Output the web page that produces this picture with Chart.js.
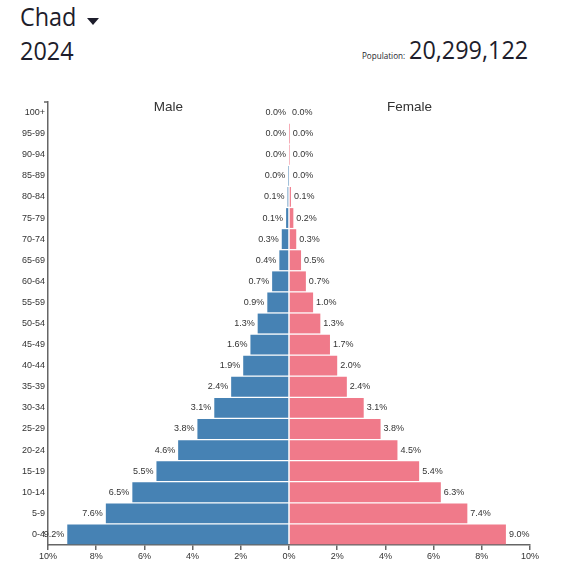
<!DOCTYPE html>
<html>
<head>
<meta charset="utf-8">
<script src="https://cdn.jsdelivr.net/npm/chart.js@4"></script>
<style>
  body { margin: 0; background: #fff; }
  #wrap { position: relative; width: 567px; height: 579px; overflow: hidden; }
  .hd { position: absolute; font-family: "Open Sans", "Noto Sans", sans-serif; font-weight: 400; color: #1d1d2b;
        line-height: 1; white-space: nowrap; transform: scaleX(0.9); transform-origin: left top; }
  #country { left: 20px; top: 3px; font-size: 26px; }
  #arrow { position: absolute; left: 87px; top: 18px; width: 0; height: 0;
           border-left: 6.5px solid transparent; border-right: 6.5px solid transparent; border-top: 7px solid #1d1d2b; }
  #year { left: 20px; top: 37px; font-size: 26px; }
  #popLabel { left: 362px; top: 51px; font-size: 9px; }
  #popValue { left: 409px; top: 36px; font-size: 26px; }
  canvas { position: absolute; left: 0; top: 0; }
</style>
</head>
<body>
<div id="wrap">
  <div class="hd" id="country">Chad</div>
  <div id="arrow"></div>
  <div class="hd" id="year">2024</div>
  <div class="hd" id="popLabel">Population:</div>
  <div class="hd" id="popValue">20,299,122</div>
  <canvas id="pyramid" width="567" height="579"></canvas>
</div>
<script>
// age groups from youngest to oldest
const ageGroups = ['0-4', '5-9', '10-14', '15-19', '20-24', '25-29', '30-34', '35-39', '40-44', '45-49',
                   '50-54', '55-59', '60-64', '65-69', '70-74', '75-79', '80-84', '85-89', '90-94', '95-99', '100+'];
// share of total population, percent
const malePct   = [9.2, 7.6, 6.5, 5.5, 4.6, 3.8, 3.1, 2.4, 1.9, 1.6, 1.3, 0.9, 0.7, 0.4, 0.3, 0.12, 0.06, 0.01, 0.0, 0.0, 0.0];
const femalePct = [9.0, 7.4, 6.3, 5.4, 4.5, 3.8, 3.1, 2.4, 2.0, 1.7, 1.3, 1.0, 0.7, 0.5, 0.3, 0.18, 0.08, 0.03, 0.01, 0.005, 0.0];
const sexLabels = ['Male', 'Female'];

const axisColor = '#666';
const textColor = '#333';
const smallFont = { family: '"Liberation Sans", Arial, sans-serif', size: 9 };

const barLabels = {
    id: 'barLabels',
    afterDatasetsDraw(chart) {
        const ctx = chart.ctx;
        ctx.save();
        ctx.font = '9px "Liberation Sans", Arial, sans-serif';
        ctx.fillStyle = textColor;
        ctx.textBaseline = 'middle';
        chart.data.datasets.forEach((ds, di) => {
            const meta = chart.getDatasetMeta(di);
            meta.data.forEach((bar, i) => {
                let v = Math.abs(ds.data[i]).toFixed(1) + '%';
                if (di == 0) {
                    ctx.textAlign = 'right';
                    ctx.fillText(v, Math.min(bar.x, bar.base) - 3, bar.y);
                } else {
                    ctx.textAlign = 'left';
                    ctx.fillText(v, Math.max(bar.x, bar.base) + 3, bar.y);
                }
            });
        });
        // side titles
        const xs = chart.scales.x;
        const top = chart.chartArea.top;
        ctx.font = '13.5px "Liberation Sans", Arial, sans-serif';
        ctx.textAlign = 'center';
        ctx.fillText(sexLabels[0], xs.getPixelForValue(-5), top + 5);
        ctx.fillText(sexLabels[1], xs.getPixelForValue(5), top + 5);
        // outer tick at the top of the age axis
        ctx.strokeStyle = axisColor;
        ctx.lineWidth = 1.5;
        ctx.beginPath();
        ctx.moveTo(chart.chartArea.left - 4, top);
        ctx.lineTo(chart.chartArea.left, top);
        ctx.stroke();
        ctx.restore();
    }
};

new Chart('pyramid', {
    type: 'bar',
    data: {
        labels: ageGroups,
        datasets: [
            {
                label: sexLabels[0],
                data: malePct.map(v => -v),
                backgroundColor: '#4682b4',
                categoryPercentage: 0.94,
                barPercentage: 1
            },
            {
                label: sexLabels[1],
                data: femalePct,
                backgroundColor: '#f07a8a',
                categoryPercentage: 0.94,
                barPercentage: 1
            }
        ]
    },
    options: {
        indexAxis: 'y',
        responsive: false,
        animation: false,
        layout: { padding: { left: 0, right: 37, top: 102, bottom: 12 } },
        plugins: {
            legend: { display: false },
            tooltip: { enabled: false }
        },
        scales: {
            x: {
                stacked: true,
                min: -10,
                max: 10,
                ticks: {
                    stepSize: 2,
                    color: textColor,
                    font: smallFont,
                    padding: 1,
                    maxRotation: 0,
                    callback: v => Math.abs(v) + '%'
                },
                grid: { drawOnChartArea: false, drawTicks: true, tickLength: 5, tickColor: axisColor, lineWidth: 1.5 },
                border: { display: true, color: axisColor, width: 1.5 },
                afterFit: s => { s.height = 22; }
            },
            y: {
                stacked: true,
                reverse: true,
                ticks: { color: textColor, font: smallFont, padding: 3, autoSkip: false },
                grid: { display: false, drawTicks: false },
                border: { display: true, color: axisColor, width: 1.5 },
                afterFit: s => { s.width = 48; }
            }
        }
    },
    plugins: [barLabels]
});
</script>
</body>
</html>
